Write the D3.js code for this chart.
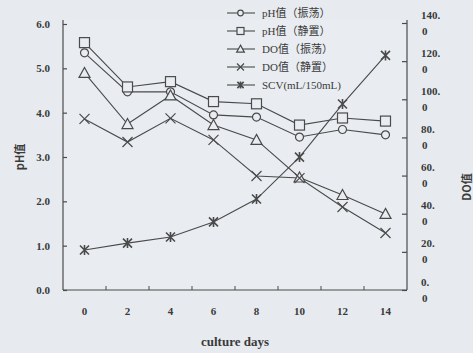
<!DOCTYPE html>
<html><head><meta charset="utf-8">
<script src="https://cdn.jsdelivr.net/npm/d3@7"></script>
<style>body{margin:0;background:#e7ebef}svg{display:block}</style>
</head><body>
<svg id="c" width="473" height="353"></svg>
<script>
const days = [0, 2, 4, 6, 8, 10, 12, 14];
const phShake  = [5.35, 4.47, 4.47, 3.95, 3.9, 3.45, 3.62, 3.5];
const phStatic = [5.58, 4.58, 4.7, 4.25, 4.2, 3.72, 3.88, 3.81];
const doShake  = [113.8, 87, 102, 86.5, 78.7, 59, 49.8, 39.9];
const doStatic = [89.7, 77.6, 90, 78.7, 59.8, 58.7, 43.5, 29.9];
const scv      = [21, 24.6, 27.8, 35.7, 47.7, 69.7, 97.5, 123];
const leftTicks = [0, 1, 2, 3, 4, 5, 6];
const rightTicks = [0, 20, 40, 60, 80, 100, 120, 140];
const seriesNames = ["pH值（振荡）", "pH值（静置）", "DO值（振荡）", "DO值（静置）", "SCV(mL/150mL)"];

const svg = d3.select("#c");
const ink = "#4a4a4a";
const bg = "#e9edf1";
const L = 63, R = 407, T = 24, B = 290;

const x = d3.scaleBand().domain(days).range([L, R]);
const yL = d3.scaleLinear().domain([0, 6]).range([B, T]);
const yR = d3.scaleLinear().domain([0, 140]).range([B, 23]);

svg.append("rect").attr("width", 473).attr("height", 353).attr("fill", "#e7ebef");
svg.append("rect").attr("x", L).attr("y", 20).attr("width", R - L).attr("height", B - 20).attr("fill", bg);

const serif = "'Liberation Serif','DejaVu Serif',serif";

// left axis
const gL = svg.append("g").attr("transform", `translate(${L},0)`)
  .call(d3.axisLeft(yL).tickValues(leftTicks).tickSize(-4).tickPadding(13).tickFormat(d3.format(".1f")));
gL.select(".domain").attr("d", `M0,20V${B}`);
// right axis
const gR = svg.append("g").attr("transform", `translate(${R},0)`)
  .call(d3.axisRight(yR).tickValues(rightTicks).tickSize(-5).tickPadding(14).tickFormat(""));
gR.select(".domain").attr("d", `M0,20V${B}`);
gR.selectAll(".tick text").each(function(d) {
  const t = d3.select(this).attr("dy", null).attr("y", null);
  t.append("tspan").attr("x", 14).attr("y", -5).text(d + ".");
  t.append("tspan").attr("x", 15).attr("y", 11).text("0");
});
// bottom axis
const gB = svg.append("g").attr("transform", `translate(0,${B})`)
  .call(d3.axisBottom(x).tickSize(0).tickPadding(17));
gB.select(".domain").attr("d", `M${L},0H${R}`);
gB.selectAll(".bt").data(days.slice(1)).join("line").attr("class", "bt")
  .attr("x1", d => x(d)).attr("x2", d => x(d)).attr("y1", 0).attr("y2", -4);

[gL, gR, gB].forEach(g => {
  g.selectAll("path,line").attr("stroke", ink).attr("stroke-width", 1.2);
  g.selectAll("text").attr("fill", "#3a3a3a").style("font-family", serif)
    .style("font-size", "11px").style("font-weight", "bold");
});
gB.selectAll(".bt").attr("stroke", ink).attr("stroke-width", 1);

// axis titles
svg.append("text").attr("transform", "translate(24,157) rotate(-90)").attr("text-anchor", "middle")
  .style("font-family", "'Noto Sans CJK SC','DejaVu Sans',sans-serif").style("font-size", "11px")
  .style("font-weight", "bold").attr("fill", "#3a3a3a").text("pH值");
svg.append("text").attr("transform", "translate(471,187) rotate(-90)").attr("text-anchor", "middle")
  .style("font-family", "'Noto Sans CJK SC','DejaVu Sans',sans-serif").style("font-size", "11px")
  .style("font-weight", "bold").attr("fill", "#3a3a3a").text("DO值");
svg.append("text").attr("x", 235).attr("y", 346).attr("text-anchor", "middle")
  .style("font-family", serif).style("font-size", "13px").style("font-weight", "bold")
  .attr("fill", "#3a3a3a").text("culture days");

// markers
function marker(g, type, cx, cy, k = 1) {
  const s = g.append("g").attr("transform", `translate(${cx},${cy}) scale(${k})`)
    .attr("fill", bg).attr("stroke", ink).attr("stroke-width", 1.2 / k);
  if (type === "circle") s.append("circle").attr("r", 4);
  else if (type === "square") s.append("rect").attr("x", -5).attr("y", -5).attr("width", 10).attr("height", 10);
  else if (type === "triangle") s.append("path").attr("d", "M0,-5.5L5.5,4.5L-5.5,4.5Z");
  else if (type === "x") s.append("path").attr("d", "M-5,-5L5,5M-5,5L5,-5");
  else if (type === "ast") s.append("path").attr("d", "M-4.5,-4.5L4.5,4.5M-4.5,4.5L4.5,-4.5M0,-5V5").attr("stroke-width", 1.6 / k);
}

const series = [
  {vals: phShake, y: yL, m: "circle"},
  {vals: phStatic, y: yL, m: "square"},
  {vals: doShake, y: yR, m: "triangle"},
  {vals: doStatic, y: yR, m: "x"},
  {vals: scv, y: yR, m: "ast"}
];
const cx = d => x(d) + x.bandwidth() / 2;
series.forEach(s => {
  const line = d3.line().x((d, i) => cx(days[i])).y(d => s.y(d));
  svg.append("path").attr("d", line(s.vals)).attr("fill", "none").attr("stroke", ink).attr("stroke-width", 1.1);
});
series.forEach(s => {
  const g = svg.append("g");
  s.vals.forEach((v, i) => marker(g, s.m, cx(days[i]), s.y(v)));
});

// legend
const leg = svg.append("g");
seriesNames.forEach((n, i) => {
  const yy = 13 + i * 18;
  leg.append("line").attr("x1", 227).attr("x2", 255).attr("y1", yy).attr("y2", yy)
    .attr("stroke", ink).attr("stroke-width", 1.1);
  marker(leg, series[i].m, 240.5, yy, 0.7);
  leg.append("text").attr("x", 262).attr("y", yy + 4)
    .style("font-family", "'Liberation Serif','Noto Sans CJK SC',serif").style("font-size", "11px")
    .attr("fill", "#3a3a3a").text(n);
});
</script>
</body></html>
